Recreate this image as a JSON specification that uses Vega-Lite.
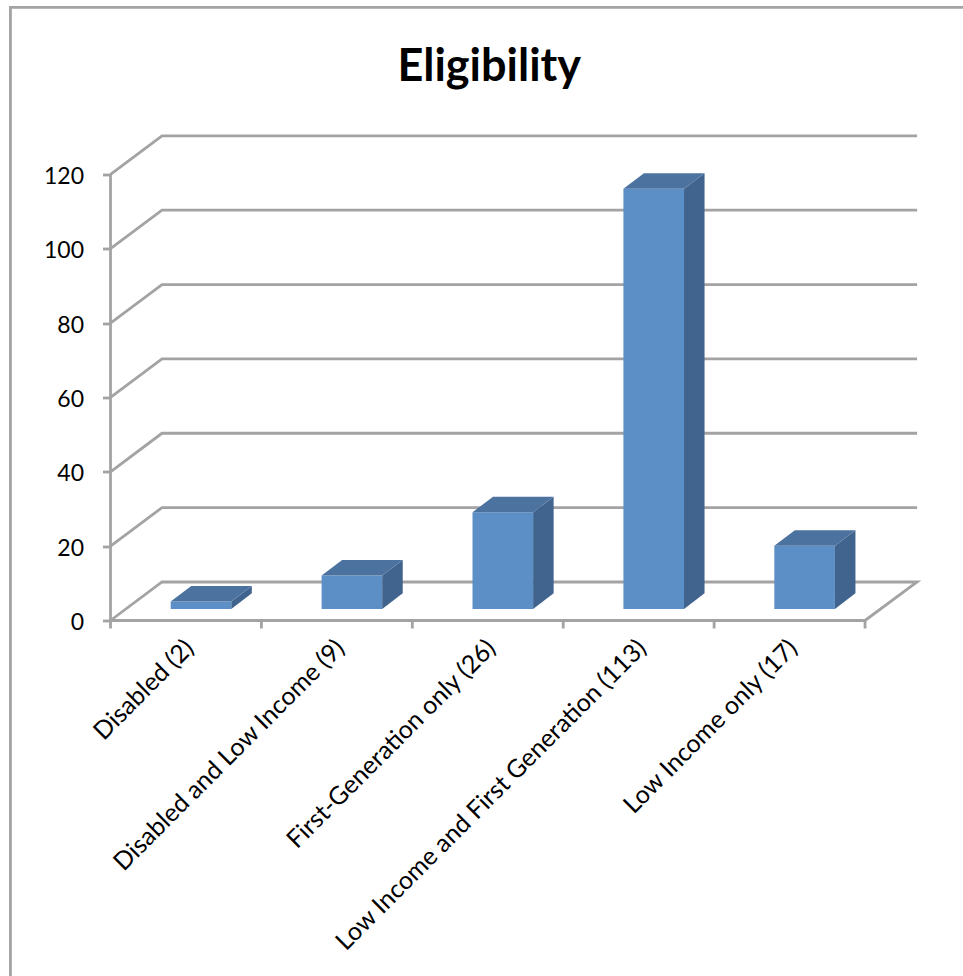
{"$schema":"https://vega.github.io/schema/vega-lite/v6.json","autosize":"none","width":807.5,"height":485,"padding":{"left":110.5,"top":135.5,"right":45,"bottom":355.5},"background":"white","config":{"view":{"stroke":null}},"title":{"text":"Eligibility","font":"Lato","fontSize":45,"fontWeight":"bold","color":"black","anchor":"middle","dx":-25,"offset":-88},"datasets":{"lines":[{"g":"frame","s":0,"x":-0.663,"y":-96},{"g":"frame","s":1,"x":-0.663,"y":164.9},{"g":"frame","s":2,"x":5.65,"y":164.9},{"g":"axis","s":0,"x":0,"y":0},{"g":"axis","s":1,"x":0,"y":120},{"g":"floor","s":0,"x":0,"y":0},{"g":"floor","s":1,"x":0.3413,"y":10.36},{"g":"floor","s":2,"x":5.345,"y":10.36},{"g":"floor","s":3,"x":5,"y":0},{"g":"floor","s":4,"x":0,"y":0},{"g":"g20","s":0,"x":0,"y":20},{"g":"g20","s":1,"x":0.3413,"y":30.36},{"g":"g20","s":2,"x":5.345,"y":30.36},{"g":"g40","s":0,"x":0,"y":40},{"g":"g40","s":1,"x":0.3413,"y":50.36},{"g":"g40","s":2,"x":5.345,"y":50.36},{"g":"g60","s":0,"x":0,"y":60},{"g":"g60","s":1,"x":0.3413,"y":70.36},{"g":"g60","s":2,"x":5.345,"y":70.36},{"g":"g80","s":0,"x":0,"y":80},{"g":"g80","s":1,"x":0.3413,"y":90.36},{"g":"g80","s":2,"x":5.345,"y":90.36},{"g":"g100","s":0,"x":0,"y":100},{"g":"g100","s":1,"x":0.3413,"y":110.36},{"g":"g100","s":2,"x":5.345,"y":110.36},{"g":"g120","s":0,"x":0,"y":120},{"g":"g120","s":1,"x":0.3413,"y":130.36},{"g":"g120","s":2,"x":5.345,"y":130.36},{"g":"t0","s":0,"x":0,"y":0},{"g":"t0","s":1,"x":0,"y":-2.15},{"g":"t1","s":0,"x":1,"y":0},{"g":"t1","s":1,"x":1,"y":-2.15},{"g":"t2","s":0,"x":2,"y":0},{"g":"t2","s":1,"x":2,"y":-2.15},{"g":"t3","s":0,"x":3,"y":0},{"g":"t3","s":1,"x":3,"y":-2.15},{"g":"t4","s":0,"x":4,"y":0},{"g":"t4","s":1,"x":4,"y":-2.15},{"g":"t5","s":0,"x":5,"y":0},{"g":"t5","s":1,"x":5,"y":-2.15}],"faces":[{"bar":"Disabled (2)","face":"front","x":0.3989,"lo":3.1,"hi":5.1},{"bar":"Disabled (2)","face":"front","x":0.8005,"lo":3.1,"hi":5.1},{"bar":"Disabled (2)","face":"side","x":0.8005,"lo":3.1,"hi":5.1},{"bar":"Disabled (2)","face":"side","x":0.9365,"lo":7.3,"hi":9.3},{"bar":"Disabled (2)","face":"top","x":0.3989,"lo":5.1,"hi":5.1},{"bar":"Disabled (2)","face":"top","x":0.5349,"lo":5.1,"hi":9.3},{"bar":"Disabled (2)","face":"top","x":0.8005,"lo":5.1,"hi":9.3},{"bar":"Disabled (2)","face":"top","x":0.9365,"lo":9.3,"hi":9.3},{"bar":"Disabled and Low Income (9)","face":"front","x":1.3989,"lo":3.1,"hi":12.1},{"bar":"Disabled and Low Income (9)","face":"front","x":1.8005,"lo":3.1,"hi":12.1},{"bar":"Disabled and Low Income (9)","face":"side","x":1.8005,"lo":3.1,"hi":12.1},{"bar":"Disabled and Low Income (9)","face":"side","x":1.9365,"lo":7.3,"hi":16.3},{"bar":"Disabled and Low Income (9)","face":"top","x":1.3989,"lo":12.1,"hi":12.1},{"bar":"Disabled and Low Income (9)","face":"top","x":1.5349,"lo":12.1,"hi":16.3},{"bar":"Disabled and Low Income (9)","face":"top","x":1.8005,"lo":12.1,"hi":16.3},{"bar":"Disabled and Low Income (9)","face":"top","x":1.9365,"lo":16.3,"hi":16.3},{"bar":"First-Generation only (26)","face":"front","x":2.3989,"lo":3.1,"hi":29.1},{"bar":"First-Generation only (26)","face":"front","x":2.8005,"lo":3.1,"hi":29.1},{"bar":"First-Generation only (26)","face":"side","x":2.8005,"lo":3.1,"hi":29.1},{"bar":"First-Generation only (26)","face":"side","x":2.9365,"lo":7.3,"hi":33.3},{"bar":"First-Generation only (26)","face":"top","x":2.3989,"lo":29.1,"hi":29.1},{"bar":"First-Generation only (26)","face":"top","x":2.5349,"lo":29.1,"hi":33.3},{"bar":"First-Generation only (26)","face":"top","x":2.8005,"lo":29.1,"hi":33.3},{"bar":"First-Generation only (26)","face":"top","x":2.9365,"lo":33.3,"hi":33.3},{"bar":"Low Income and First Generation (113)","face":"front","x":3.3989,"lo":3.1,"hi":116.1},{"bar":"Low Income and First Generation (113)","face":"front","x":3.8005,"lo":3.1,"hi":116.1},{"bar":"Low Income and First Generation (113)","face":"side","x":3.8005,"lo":3.1,"hi":116.1},{"bar":"Low Income and First Generation (113)","face":"side","x":3.9365,"lo":7.3,"hi":120.3},{"bar":"Low Income and First Generation (113)","face":"top","x":3.3989,"lo":116.1,"hi":116.1},{"bar":"Low Income and First Generation (113)","face":"top","x":3.5349,"lo":116.1,"hi":120.3},{"bar":"Low Income and First Generation (113)","face":"top","x":3.8005,"lo":116.1,"hi":120.3},{"bar":"Low Income and First Generation (113)","face":"top","x":3.9365,"lo":120.3,"hi":120.3},{"bar":"Low Income only (17)","face":"front","x":4.3989,"lo":3.1,"hi":20.1},{"bar":"Low Income only (17)","face":"front","x":4.8005,"lo":3.1,"hi":20.1},{"bar":"Low Income only (17)","face":"side","x":4.8005,"lo":3.1,"hi":20.1},{"bar":"Low Income only (17)","face":"side","x":4.9365,"lo":7.3,"hi":24.3},{"bar":"Low Income only (17)","face":"top","x":4.3989,"lo":20.1,"hi":20.1},{"bar":"Low Income only (17)","face":"top","x":4.5349,"lo":20.1,"hi":24.3},{"bar":"Low Income only (17)","face":"top","x":4.8005,"lo":20.1,"hi":24.3},{"bar":"Low Income only (17)","face":"top","x":4.9365,"lo":24.3,"hi":24.3}]},"layer":[{"data":{"name":"lines"},"mark":{"type":"line","stroke":"#a3a3a3","strokeWidth":2.8,"clip":false,"interpolate":"linear"},"encoding":{"x":{"field":"x","type":"quantitative","scale":{"domain":[0,5.351],"nice":false,"zero":false},"axis":{"values":[0.5,1.5,2.5,3.5,4.5],"title":null,"grid":false,"domain":false,"ticks":false,"labelAngle":-45,"labelAlign":"right","labelBaseline":"middle","labelFont":"Lato","labelFontSize":25,"labelColor":"black","labelPadding":23,"labelOffset":3,"labelOverlap":false,"labelBound":false,"labelFlush":false,"labelLimit":700,"labelExpr":"['Disabled (2)','Disabled and Low Income (9)','First-Generation only (26)','Low Income and First Generation (113)','Low Income only (17)'][floor(datum.value)]"}},"y":{"field":"y","type":"quantitative","scale":{"domain":[0,130.45],"nice":false,"zero":false},"axis":{"values":[0,20,40,60,80,100,120],"title":null,"grid":false,"domain":false,"ticks":true,"tickSize":8,"tickWidth":2.8,"tickColor":"#a3a3a3","labelFont":"Lato","labelFontSize":23,"labelColor":"black","labelPadding":19,"labelOffset":2}},"detail":{"field":"g"},"order":{"field":"s","type":"quantitative"}}},{"data":{"name":"faces"},"mark":{"type":"area","clip":false,"interpolate":"linear","line":false},"encoding":{"x":{"field":"x","type":"quantitative"},"y":{"field":"lo","type":"quantitative","stack":null},"y2":{"field":"hi"},"detail":{"field":"bar"},"color":{"field":"face","type":"nominal","legend":null,"scale":{"domain":["front","side","top"],"range":["#5B8FC5","#41648F","#4C72A0"]}},"opacity":{"value":1}}}]}
